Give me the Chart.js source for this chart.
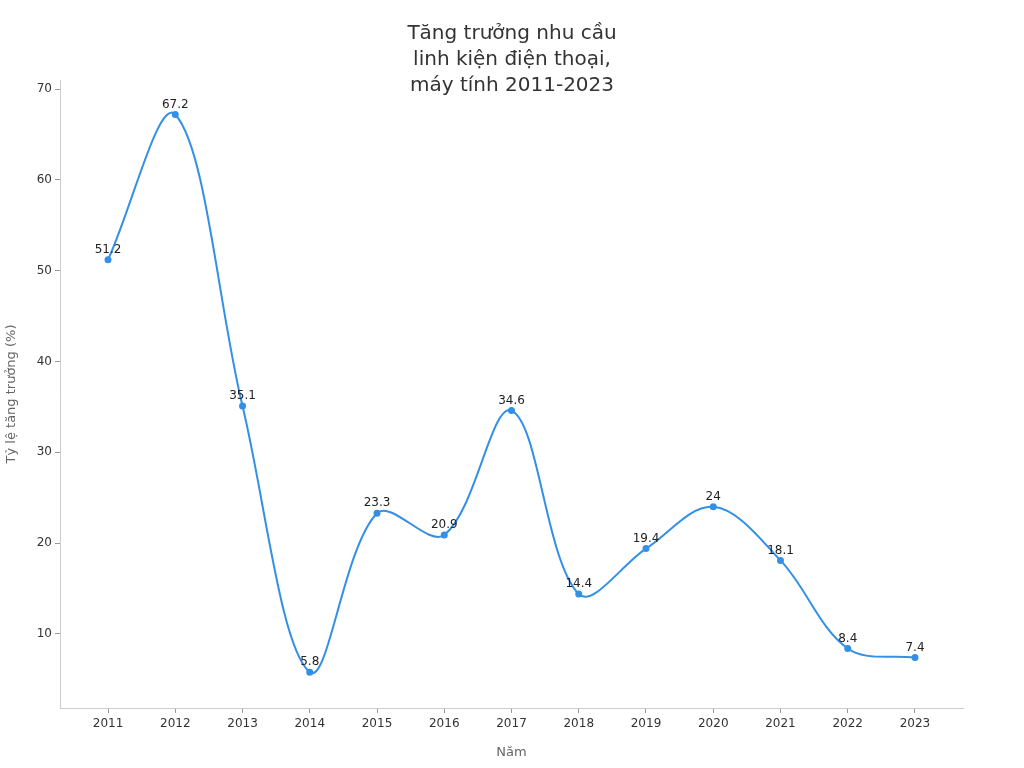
<!DOCTYPE html>
<html>
<head>
<meta charset="utf-8">
<script src="https://cdn.jsdelivr.net/npm/chart.js@4/dist/chart.umd.min.js"></script>
<style>
  html, body { margin: 0; padding: 0; background: #fff; }
  canvas { display: block; }
</style>
</head>
<body>
<canvas id="myChart" width="1024" height="768"></canvas>
<script>
const years = [2011, 2012, 2013, 2014, 2015, 2016, 2017, 2018, 2019, 2020, 2021, 2022, 2023];
const growth = [51.2, 67.2, 35.1, 5.8, 23.3, 20.9, 34.6, 14.4, 19.4, 24, 18.1, 8.4, 7.4];
const yTicks = [10, 20, 30, 40, 50, 60, 70];
const titleLines = ['Tăng trưởng nhu cầu', 'linh kiện điện thoại,', 'máy tính 2011-2023'];

const FONT = "'DejaVu Sans', sans-serif";
const lineColor = '#3390e6';

let points = [];
for (let i = 0; i < years.length; i++) {
  points.push({ x: years[i], y: growth[i] });
}

// title drawn over the top margin
const titlePlugin = {
  id: 'topTitle',
  afterDraw(chart) {
    const ctx = chart.ctx;
    ctx.save();
    ctx.font = '20px ' + FONT;
    ctx.fillStyle = '#333';
    ctx.textAlign = 'center';
    ctx.textBaseline = 'middle';
    titleLines.forEach((t, i) => ctx.fillText(t, 512, 34 + i * 26));
    ctx.restore();
  }
};

// value labels above each point
const valueLabels = {
  id: 'valueLabels',
  afterDatasetsDraw(chart) {
    const ctx = chart.ctx;
    const meta = chart.getDatasetMeta(0);
    ctx.save();
    ctx.font = '12px ' + FONT;
    ctx.fillStyle = '#222';
    ctx.textAlign = 'center';
    ctx.textBaseline = 'bottom';
    meta.data.forEach((pt, i) => {
      ctx.fillText(String(growth[i]), pt.x, pt.y - 4);
    });
    ctx.restore();
  }
};

new Chart(document.getElementById('myChart'), {
  type: 'line',
  data: {
    datasets: [{
      data: points,
      borderColor: lineColor,
      backgroundColor: lineColor,
      borderWidth: 2,
      pointRadius: 2.5,
      pointHoverRadius: 3,
      tension: 0.35,
      fill: false
    }]
  },
  options: {
    responsive: false,
    animation: false,
    layout: { padding: { left: 0, right: 61, top: 80, bottom: 0 } },
    plugins: {
      legend: { display: false },
      tooltip: { enabled: false }
    },
    scales: {
      x: {
        type: 'linear',
        min: 2010.286,
        max: 2023.714,
        afterBuildTicks: s => { s.ticks = years.map(v => ({ value: v })); },
        afterFit: s => { s.height = 60; },
        grid: { drawOnChartArea: false, tickLength: 5, color: '#999' },
        border: { color: '#ccc' },
        ticks: {
          color: '#333',
          font: { family: FONT, size: 12 },
          padding: 4,
          maxRotation: 0,
          callback: v => String(v)
        },
        title: {
          display: true,
          text: 'Năm',
          color: '#666',
          font: { family: FONT, size: 13 },
          padding: { top: 4, bottom: 8 }
        }
      },
      y: {
        min: 1.85,
        max: 71,
        afterBuildTicks: s => { s.ticks = yTicks.map(v => ({ value: v })); },
        afterFit: s => { s.width = 60; },
        grid: { drawOnChartArea: false, tickLength: 5, color: '#999' },
        border: { color: '#ccc' },
        ticks: {
          color: '#333',
          font: { family: FONT, size: 12 },
          padding: 3
        },
        title: {
          display: true,
          text: 'Tỷ lệ tăng trưởng (%)',
          color: '#666',
          font: { family: FONT, size: 13 },
          padding: { bottom: 0 }
        }
      }
    }
  },
  plugins: [titlePlugin, valueLabels]
});
</script>
</body>
</html>
